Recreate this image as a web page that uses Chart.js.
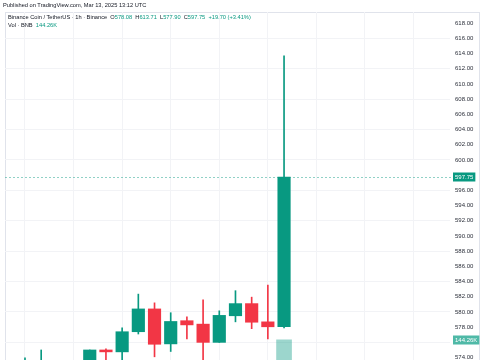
<!DOCTYPE html>
<html>
<head>
<meta charset="utf-8">
<script src="https://cdn.jsdelivr.net/npm/chart.js@4.4.1/dist/chart.umd.min.js"></script>
<style>
  html, body { margin: 0; padding: 0; background: #fff; }
  #wrap { position: relative; width: 485px; height: 360px; overflow: hidden; font-family: 'Liberation Sans', Arial, sans-serif; }
  #frame { position: absolute; left: 5px; top: 12px; width: 475px; height: 360px; border: 1px solid #e0e3eb; box-sizing: border-box; }
  #chart { position: absolute; left: 0; top: 0; }
  .txt { position: absolute; white-space: nowrap; color: #131722; font-size: 5.7px; }
  .up { color: #089981; }
</style>
</head>
<body>
<div id="wrap">
  <div id="frame"></div>
  <canvas id="chart" width="485" height="360"></canvas>
  <div class="txt" style="left:3px; top:2px;">Published on TradingView.com, Mar 13, 2025 13:12 UTC</div>
  <div class="txt" style="left:8px; top:14px;">Binance Coin / TetherUS · 1h · Binance&nbsp; O<span class="up">578.08</span>&nbsp; H<span class="up">613.71</span>&nbsp; L<span class="up">577.90</span>&nbsp; C<span class="up">597.75</span>&nbsp; <span class="up">+19.70 (+3.41%)</span></div>
  <div class="txt" style="left:8px; top:22px;">Vol · BNB&nbsp; <span class="up">144.26K</span></div>
</div>
<script>
// Data (1h candles, Mar 12 21:00 -> Mar 13 13:00 UTC)
const hours = ['21:00', '22:00', '23:00', '00:00', '01:00', '02:00', '03:00', '04:00', '05:00',
               '06:00', '07:00', '08:00', '09:00', '10:00', '11:00', '12:00', '13:00'];
const open  = [572.9, 572.8, 573.4, 572.6, 573.0, 575.0, 574.75, 577.4, 580.4, 575.8, 578.85, 578.4, 576.0, 579.5, 581.1, 578.7, 578.08];
const high  = [573.95, 575.0, 573.6, 573.5, 575.0, 575.15, 577.9, 582.35, 581.2, 579.9, 579.35, 581.6, 580.15, 582.8, 581.95, 583.55, 613.71];
const low   = [572.4, 572.2, 572.1, 572.0, 572.5, 573.2, 573.0, 577.1, 574.1, 574.8, 576.45, 573.2, 576.0, 578.7, 577.8, 576.45, 577.90];
const close = [573.3, 573.4, 572.6, 573.0, 575.0, 574.75, 577.4, 580.4, 575.75, 578.75, 578.3, 576.0, 579.55, 581.1, 578.65, 578.05, 597.75];
// volume in K BNB, only the last bar is visible in the picture
const volume = [null, null, null, null, null, null, null, null, null, null, null, null, null, null, null, null, 144.26];

const UP = '#089981';
const DOWN = '#f23645';
const colors = close.map((c, i) => c >= open[i] ? UP : DOWN);

Chart.defaults.font.family = "'Liberation Sans', Arial, sans-serif";

// last price line + axis labels
const priceTags = {
    id: 'priceTags',
    afterDraw(chart) {
        const { ctx, chartArea, scales } = chart;
        const last = close.length - 1;
        const py = scales.y.getPixelForValue(close[last]);
        const vy = scales.vol.getPixelForValue(volume[last]);
        ctx.save();
        ctx.strokeStyle = 'rgba(8,153,129,0.45)';
        ctx.lineWidth = 1;
        ctx.setLineDash([2, 2]);
        ctx.beginPath();
        ctx.moveTo(chartArea.left, Math.round(py) + 0.5);
        ctx.lineTo(chartArea.right + 3, Math.round(py) + 0.5);
        ctx.stroke();
        ctx.setLineDash([]);

        const tag = (y, text, bg) => {
            ctx.font = "6px 'Liberation Sans', Arial, sans-serif";
            const w = ctx.measureText(text).width + 4;
            ctx.fillStyle = bg;
            ctx.fillRect(chartArea.right + 3, Math.round(y) - 4.5, w, 9);
            ctx.fillStyle = '#fff';
            ctx.textBaseline = 'middle';
            ctx.fillText(text, chartArea.right + 5, Math.round(y));
        };
        tag(py, close[last].toFixed(2), UP);
        tag(vy, volume[last].toFixed(2) + 'K', '#4fb9a7');
        ctx.restore();
    }
};

new Chart(document.getElementById('chart'), {
    type: 'bar',
    data: {
        datasets: [
            {
                label: 'Volume',
                yAxisID: 'vol',
                data: volume.map((v, i) => ({ x: i, y: v })),
                backgroundColor: 'rgba(8,153,129,0.4)',
                barThickness: 15,
                grouped: false,
                order: 3
            },
            {
                label: 'Wick',
                data: high.map((h, i) => ({ x: i, y: [low[i], h] })),
                backgroundColor: colors,
                barThickness: 1,
                grouped: false,
                order: 2
            },
            {
                label: 'Body',
                data: open.map((o, i) => ({ x: i, y: [o, close[i]] })),
                backgroundColor: colors,
                barThickness: 12.5,
                grouped: false,
                order: 1
            }
        ]
    },
    options: {
        responsive: false,
        animation: false,
        layout: { padding: { top: 12, left: 5, right: 5, bottom: 0 } },
        plugins: { legend: { display: false }, tooltip: { enabled: false } },
        scales: {
            x: {
                type: 'linear',
                min: -1.235,
                max: 26.25,
                offset: false,
                ticks: { display: false, stepSize: 3, includeBounds: false },
                grid: { color: '#f2f3f6', drawTicks: false, offset: false },
                border: { display: false }
            },
            y: {
                position: 'right',
                min: 573.68,
                max: 619.47,
                ticks: {
                    stepSize: 2,
                    includeBounds: false,
                    padding: 5,
                    color: '#2a2e39',
                    font: { size: 6 },
                    callback: v => v.toFixed(2)
                },
                grid: {
                    drawTicks: false,
                    color: c => (Math.round(c.tick.value) % 4 === 0 ? '#f2f3f6' : 'rgba(0,0,0,0)')
                },
                border: { display: false },
                afterFit: s => { s.width = 30; s.paddingTop = 0; s.paddingBottom = 0; }
            },
            vol: {
                display: false,
                min: 115,
                max: 620
            }
        }
    },
    plugins: [priceTags]
});
</script>
</body>
</html>
